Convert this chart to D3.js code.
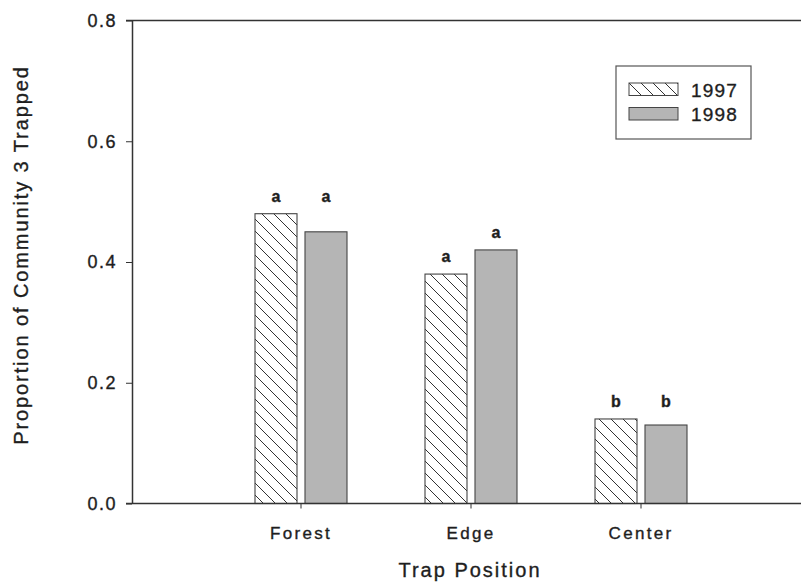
<!DOCTYPE html>
<html>
<head>
<meta charset="utf-8">
<script src="https://cdn.jsdelivr.net/npm/d3@7"></script>
<style>
  body { margin: 0; background: #fff; }
  text { font-family: "Liberation Sans", Arial, sans-serif; fill: #1e1e1e; stroke: #1e1e1e; stroke-width: 0.35px; }
</style>
</head>
<body>
<svg id="canvas"></svg>
<script>
// chart data
const categories = ["Forest", "Edge", "Center"];
const years = ["1997", "1998"];
const values1997 = [0.48, 0.38, 0.14];
const values1998 = [0.45, 0.42, 0.13];
const letters1997 = ["a", "a", "b"];
const letters1998 = ["a", "a", "b"];
// height (in data units) the letters sit on
const letterAt1997 = [0.48, 0.38, 0.14];
const letterAt1998 = [0.48, 0.42, 0.14];
const yTicks = [0, 0.2, 0.4, 0.6, 0.8];

let width = 801;
let height = 584;

let canvas = d3.select('#canvas');
canvas.attr('width', width);
canvas.attr('height', height);

// hatch pattern for 1997
let defs = canvas.append('defs');
defs.append('pattern')
    .attr('id', 'hatch')
    .attr('patternUnits', 'userSpaceOnUse')
    .attr('width', 12)
    .attr('height', 12)
    .append('path')
    .attr('d', 'M0,0 L12,12 M-3,9 L3,15 M9,-3 L15,3')
    .attr('stroke', '#333')
    .attr('stroke-width', 1);

const fills = {"1997": 'url(#hatch)', "1998": '#b5b5b5'};

// scales
let yScale = d3.scaleLinear()
    .domain([0, 0.8])
    .range([503.5, 20.5]);

let xScale = d3.scaleBand()
    .domain(categories)
    .range([216, 726])
    .padding(0);

let xSub = d3.scaleBand()
    .domain(years)
    .range([39, 131])
    .paddingInner(0.16);

// flatten rows
let rows = [];
categories.forEach((c, i) => {
    rows.push({cat: c, year: "1997", value: values1997[i], letter: letters1997[i], at: letterAt1997[i]});
    rows.push({cat: c, year: "1998", value: values1998[i], letter: letters1998[i], at: letterAt1998[i]});
});

// top frame line runs to the edge
canvas.append('line')
    .attr('x1', 126).attr('x2', width)
    .attr('y1', yScale(0.8)).attr('y2', yScale(0.8))
    .attr('stroke', '#333').attr('stroke-width', 1.5);

// bars
canvas.selectAll('rect.bar')
    .data(rows)
    .enter()
    .append('rect')
    .attr('class', 'bar')
    .attr('x', d => xScale(d.cat) + xSub(d.year))
    .attr('y', d => yScale(d.value))
    .attr('width', xSub.bandwidth())
    .attr('height', d => yScale(0) - yScale(d.value))
    .attr('fill', d => fills[d.year])
    .attr('stroke', '#444')
    .attr('stroke-width', 1.1);

// significance letters
canvas.selectAll('text.sig')
    .data(rows)
    .enter()
    .append('text')
    .attr('class', 'sig')
    .attr('x', d => xScale(d.cat) + xSub(d.year) + xSub.bandwidth() / 2)
    .attr('y', d => yScale(d.at) - 12)
    .attr('text-anchor', 'middle')
    .style('font-size', '16px')
    .style('font-weight', 'bold')
    .text(d => d.letter);

// y axis
let yAxis = d3.axisLeft(yScale)
    .tickValues(yTicks)
    .tickFormat(d3.format('.1f'))
    .tickSize(6)
    .tickPadding(9)
    .tickSizeOuter(0);

let gy = canvas.append('g')
    .attr('id', 'y-axis')
    .attr('transform', 'translate(132, 0)')
    .call(yAxis);
gy.select('.domain').attr('stroke', '#333').attr('stroke-width', 1.5);
gy.selectAll('.tick line').attr('stroke', '#333');
gy.selectAll('.tick text')
    .attr('fill', '#1e1e1e')
    .style('font-family', '"Liberation Sans", Arial, sans-serif')
    .style('font-size', '18px')
    .style('letter-spacing', '1.5px');

// x axis
let xAxis = d3.axisBottom(xScale)
    .tickSize(5)
    .tickPadding(18)
    .tickSizeOuter(0);

let gx = canvas.append('g')
    .attr('id', 'x-axis')
    .attr('transform', 'translate(0, ' + yScale(0) + ')')
    .call(xAxis);
gx.select('.domain').remove();
gx.selectAll('.tick line').attr('stroke', '#333');
gx.selectAll('.tick text')
    .attr('fill', '#1e1e1e')
    .style('font-family', '"Liberation Sans", Arial, sans-serif')
    .style('font-size', '17px')
    .style('letter-spacing', '2.3px');

// baseline runs to the edge
canvas.append('line')
    .attr('x1', 126).attr('x2', width)
    .attr('y1', yScale(0)).attr('y2', yScale(0))
    .attr('stroke', '#333').attr('stroke-width', 1.5);

// axis titles
canvas.append('text')
    .attr('x', 470)
    .attr('y', 577)
    .attr('text-anchor', 'middle')
    .style('font-size', '20px')
    .style('letter-spacing', '2px')
    .text('Trap Position');

canvas.append('text')
    .attr('transform', 'translate(28, 255) rotate(-90)')
    .attr('text-anchor', 'middle')
    .style('font-size', '20px')
    .style('letter-spacing', '1.9px')
    .text('Proportion of Community 3 Trapped');

// legend
let legend = canvas.append('g').attr('transform', 'translate(616, 66)');
legend.append('rect')
    .attr('width', 135)
    .attr('height', 73)
    .attr('fill', 'none')
    .attr('stroke', '#555')
    .attr('stroke-width', 1.2);

let items = legend.selectAll('g.item')
    .data(years)
    .enter()
    .append('g')
    .attr('class', 'item')
    .attr('transform', (d, i) => 'translate(13, ' + (17 + i * 24.5) + ')');

items.append('rect')
    .attr('width', 49)
    .attr('height', 12.5)
    .attr('fill', d => fills[d])
    .attr('stroke', '#444')
    .attr('stroke-width', 1);

items.append('text')
    .attr('x', 62)
    .attr('y', 13.5)
    .style('font-size', '19px')
    .style('letter-spacing', '1.2px')
    .text(d => d);
</script>
</body>
</html>
